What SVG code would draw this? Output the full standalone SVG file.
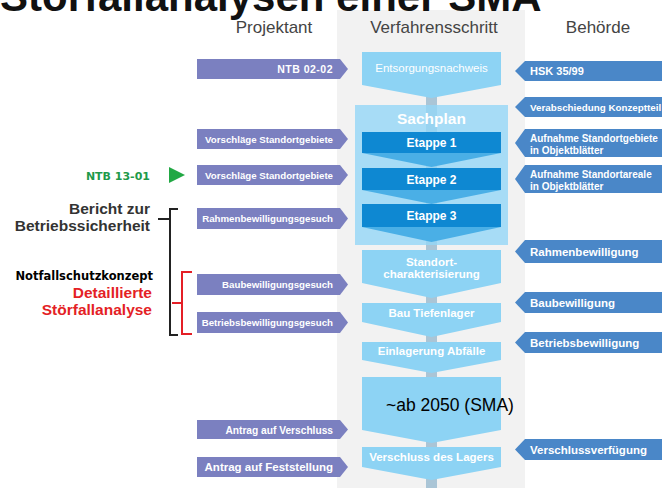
<svg xmlns="http://www.w3.org/2000/svg" width="662" height="488" viewBox="0 0 662 488">
<style>
.hdr{font-family:"Liberation Sans",Arial,sans-serif;font-size:17px;fill:#444;text-anchor:middle}
.lft{fill:#7b80c0}
.rgt{fill:#4a87c8}
.lt{font-family:"Liberation Sans",Arial,sans-serif;font-weight:bold;font-size:9.7px;fill:#fff;text-anchor:end}
.rt{font-family:"Liberation Sans",Arial,sans-serif;font-weight:bold;font-size:11.5px;fill:#fff}
.rs{font-size:10px}
.lb{fill:#8dd3f4}
.dk{fill:#0e88d2}
.md{fill:#4aafe6}
.ct{font-family:"Liberation Sans",Arial,sans-serif;font-weight:bold;font-size:11.5px;fill:#fff;text-anchor:middle}
.ann{font-family:"Liberation Sans",Arial,sans-serif;font-weight:bold;font-size:15.5px;text-anchor:end}
.vb{font-family:"DejaVu Sans",Verdana,sans-serif;font-weight:bold;text-anchor:end}
</style>
<rect x="0" y="0" width="662" height="488" fill="#ffffff"/>
<rect x="337" y="10" width="188" height="478" fill="#f2f2f2"/>
<text x="0" y="11" font-family="Liberation Sans, Arial, sans-serif" font-weight="bold" font-size="42" fill="#111">Störfallanalysen einer SMA</text>
<text class="hdr" x="274" y="33">Projektant</text>
<text class="hdr" x="434" y="33">Verfahrensschritt</text>
<text class="hdr" x="598" y="33">Behörde</text>

<g id="connectors">
<rect x="426" y="85" width="11" height="403" fill="#aac5d6"/>
</g>

<g id="entsorgungsnachweis">
<path class="lb" d="M362 52H501V85L431.5 98L362 85Z"/>
<text x="431.5" y="72" font-family="Liberation Sans, Arial, sans-serif" font-size="11.5" fill="#fff" text-anchor="middle">Entsorgungsnachweis</text>
</g>
<g id="sachplan">
<rect x="355" y="105" width="153" height="140" fill="#93d6f6" fill-opacity="0.8"/>
<text x="431.5" y="124" font-family="Liberation Sans, Arial, sans-serif" font-weight="bold" font-size="15.5" fill="#fff" text-anchor="middle">Sachplan</text>
</g>
<g id="etappe1">
<path class="md" d="M362 153H501L431.5 167Z"/>
<rect class="dk" x="362" y="132" width="139" height="21"/>
<text class="ct" x="431.5" y="147" style="font-size:12px">Etappe 1</text>
</g>
<g id="etappe2">
<path class="md" d="M362 190H501L431.5 204Z"/>
<rect class="dk" x="362" y="168" width="139" height="22"/>
<text class="ct" x="431.5" y="183.5" style="font-size:12px">Etappe 2</text>
</g>
<g id="etappe3">
<path class="md" d="M362 227H501L431.5 242Z"/>
<rect class="dk" x="362" y="204" width="139" height="23"/>
<text class="ct" x="431.5" y="220" style="font-size:12px">Etappe 3</text>
</g>
<g id="standort">
<path class="lb" d="M362 250H501V283L431.5 298L362 283Z"/>
<text class="ct" x="431.5" y="266">Standort-</text>
<text class="ct" x="431.5" y="277.5">charakterisierung</text>
</g>
<g id="bau-tiefenlager">
<path class="lb" d="M362 303H501V322L431.5 337L362 322Z"/>
<text class="ct" x="431.5" y="317">Bau Tiefenlager</text>
</g>
<g id="einlagerung">
<path class="lb" d="M362 342H501V360L431.5 373L362 360Z"/>
<text class="ct" x="431.5" y="354.5">Einlagerung Abfälle</text>
</g>
<g id="beobachtung">
<path class="lb" d="M362 377H501V430L431.5 443L362 430Z"/>
<text x="386" y="411" font-family="Liberation Sans, Arial, sans-serif" font-size="17.5" fill="#000">~ab 2050 (SMA)</text>
</g>
<g id="verschluss-lager">
<path class="lb" d="M362 447H501V467L431.5 480L362 467Z"/>
<text class="ct" x="431.5" y="461">Verschluss des Lagers</text>
</g>

<g id="p-ntb0202"><path class="lft" d="M197 59H340L348 69L340 79H197Z"/><text class="lt" x="333" y="72.5" style="font-size:10.5px" letter-spacing="0.5">NTB 02-02</text></g>
<g id="p-vorschlag1"><path class="lft" d="M197 129H340L348 139L340 149H197Z"/><text class="lt" x="333" y="142.5">Vorschläge Standortgebiete</text></g>
<g id="p-vorschlag2"><path class="lft" d="M197 165H340L348 175L340 185H197Z"/><text class="lt" x="333" y="178.5">Vorschläge Standortgebiete</text></g>
<g id="p-rahmen"><path class="lft" d="M197 208H340L348 218.5L340 229H197Z"/><text class="lt" x="333" y="222">Rahmenbewilligungsgesuch</text></g>
<g id="p-bau"><path class="lft" d="M197 274H340L348 284.5L340 295H197Z"/><text class="lt" x="333" y="288">Baubewilligungsgesuch</text></g>
<g id="p-betrieb"><path class="lft" d="M197 312H340L348 322.5L340 333H197Z"/><text class="lt" x="333" y="326">Betriebsbewilligungsgesuch</text></g>
<g id="p-verschluss"><path class="lft" d="M197 420H340L348 429.5L340 439H197Z"/><text class="lt" x="333" y="433.5" style="font-size:10.2px">Antrag auf Verschluss</text></g>
<g id="p-feststellung"><path class="lft" d="M197 457H340L348 467L340 477H197Z"/><text class="lt" x="333" y="471" style="font-size:11.5px">Antrag auf Feststellung</text></g>

<g id="b-hsk"><path class="rgt" d="M515 71L525 61H662V81H525Z"/><text class="rt" x="530" y="75" style="font-size:11px">HSK 35/99</text></g>
<g id="b-verabschiedung"><path class="rgt" d="M515 107L525 97H662V117H525Z"/><text class="rt" x="530" y="110.5" style="font-size:9.8px">Verabschiedung Konzeptteil</text></g>
<g id="b-aufnahme1"><path class="rgt" d="M515 143L525 129H662V157H525Z"/><text class="rt rs" x="530" y="142">Aufnahme Standortgebiete</text><text class="rt rs" x="530" y="154">in Objektblätter</text></g>
<g id="b-aufnahme2"><path class="rgt" d="M515 179L525 165H662V193H525Z"/><text class="rt rs" x="530" y="178">Aufnahme Standortareale</text><text class="rt rs" x="530" y="190">in Objektblätter</text></g>
<g id="b-rahmen"><path class="rgt" d="M515 251.5L525 240H662V263H525Z"/><text class="rt" x="530" y="255.5">Rahmenbewilligung</text></g>
<g id="b-bau"><path class="rgt" d="M515 302.5L525 292H662V313H525Z"/><text class="rt" x="530" y="306.5">Baubewilligung</text></g>
<g id="b-betrieb"><path class="rgt" d="M515 342.5L525 332H662V353H525Z"/><text class="rt" x="530" y="346.5">Betriebsbewilligung</text></g>
<g id="b-verschluss"><path class="rgt" d="M515 449.5L525 439H662V460H525Z"/><text class="rt" x="530" y="453.5">Verschlussverfügung</text></g>

<g id="ntb1301">
<text class="vb" x="150" y="180" style="font-size:11px" fill="#1f9a4a">NTB 13-01</text>
<path d="M169 167L185 175L169 183Z" fill="#22a844"/>
</g>
<g id="bericht">
<text class="ann" x="150" y="214" fill="#333">Bericht zur</text>
<text class="ann" x="150" y="231" fill="#333">Betriebssicherheit</text>
<path d="M178 209H170V335H178M170 219H158" fill="none" stroke="#222" stroke-width="2"/>
</g>
<g id="notfall">
<text class="vb" x="153" y="280" style="font-size:11.5px" fill="#000">Notfallschutzkonzept</text>
</g>
<g id="detail">
<text class="ann" x="152" y="298" fill="#e41f26">Detaillierte</text>
<text class="ann" x="152" y="315" fill="#e41f26">Störfallanalyse</text>
<path d="M192 272H182V334H192M182 303H172" fill="none" stroke="#e41f26" stroke-width="2"/>
</g>
</svg>
